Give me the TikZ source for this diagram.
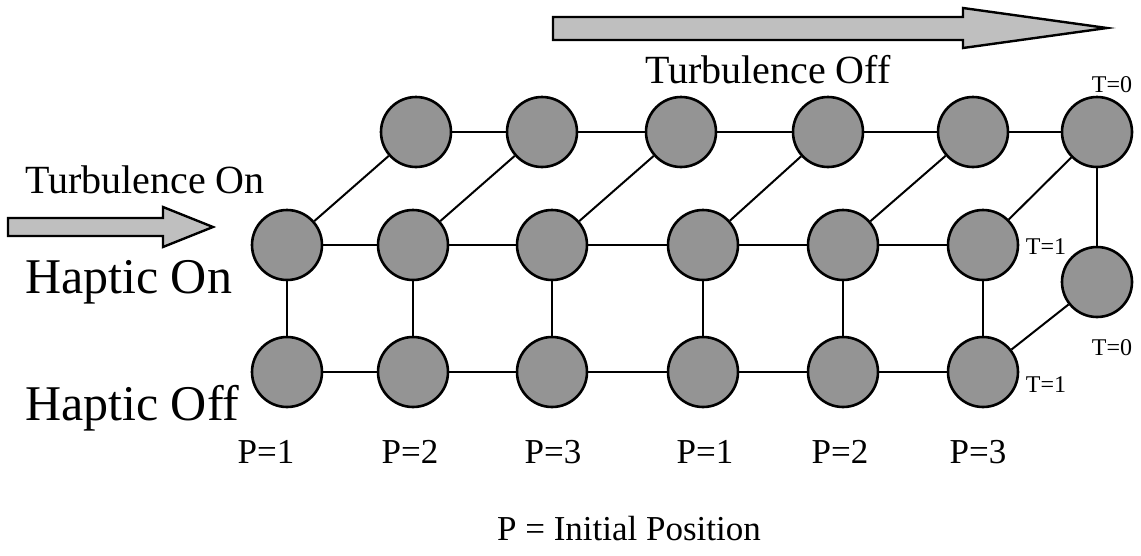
\documentclass[tikz,border=0pt]{standalone}
\usepackage{fontspec}
\setmainfont{Liberation Serif}
\begin{document}
\begin{tikzpicture}[x=1pt,y=-1pt,
  st/.style={circle,draw=black,line width=2.6pt,fill=black!42,minimum size=70pt,inner sep=0pt},
  ln/.style={line width=2pt},
  barrow/.style={draw=black,line width=2.4pt,fill=black!25,line join=miter},
  big/.style={font=\fontsize{50}{60}\selectfont,inner sep=0pt},
  mid/.style={font=\fontsize{40}{48}\selectfont,inner sep=0pt},
  plab/.style={font=\fontsize{35}{42}\selectfont,inner sep=0pt},
  tlab/.style={font=\fontsize{24}{28}\selectfont,inner sep=0pt}]
\useasboundingbox (0,0) rectangle (1141,555);
% block arrows
\draw[barrow] (553,17) -- (963,17) -- (963,8) -- (1107,28) -- (963,48) -- (963,40) -- (553,40) -- cycle;
\draw[barrow] (8,218) -- (163,218) -- (163,207) -- (213,227) -- (163,247) -- (163,236) -- (8,236) -- cycle;
% nodes
\foreach \n/\x in {1/287,2/413,3/552,4/703,5/843,6/983}{
  \node[st] (m\n) at (\x,245) {};
  \node[st] (b\n) at (\x,372) {};
}
\foreach \n/\x in {1/416,2/542,3/681,4/828,5/973,6/1097}{
  \node[st] (t\n) at (\x,132) {};
}
\node[st] (r) at (1097,282) {};
% connectors
\foreach \a/\b in {1/2,2/3,3/4,4/5,5/6}{
  \draw[ln] (t\a) -- (t\b);
  \draw[ln] (m\a) -- (m\b);
  \draw[ln] (b\a) -- (b\b);
}
\foreach \n in {1,...,6}{
  \draw[ln] (m\n) -- (b\n);
  \draw[ln] (m\n) -- (t\n);
}
\draw[ln] (t6) -- (r);
\draw[ln] (r) -- (b6);
% labels
\node[mid,anchor=base west] (toff) at (645,83) {Turbulence Off};
\node[mid,anchor=base west] (ton) at (25,193) {Turbulence On};
\node[big,anchor=base west] (hon) at (25,293) {Haptic On};
\node[big,anchor=base west] (hoff) at (25,420) {Haptic Off};
\foreach \i/\x/\p in {1/266/1,2/410/2,3/553/3,4/705/1,5/840/2,6/978/3}{
  \node[plab,anchor=base] (p\i) at (\x,463) {P=\p};
}
\node[plab,anchor=base] (pdef) at (629,540) {P = Initial Position};
\node[tlab] (tz1) at (1112,85) {T=0};
\node[tlab] (to1) at (1046,247) {T=1};
\node[tlab] (to2) at (1046,385) {T=1};
\node[tlab] (tz2) at (1112,348) {T=0};
\end{tikzpicture}
\end{document}
